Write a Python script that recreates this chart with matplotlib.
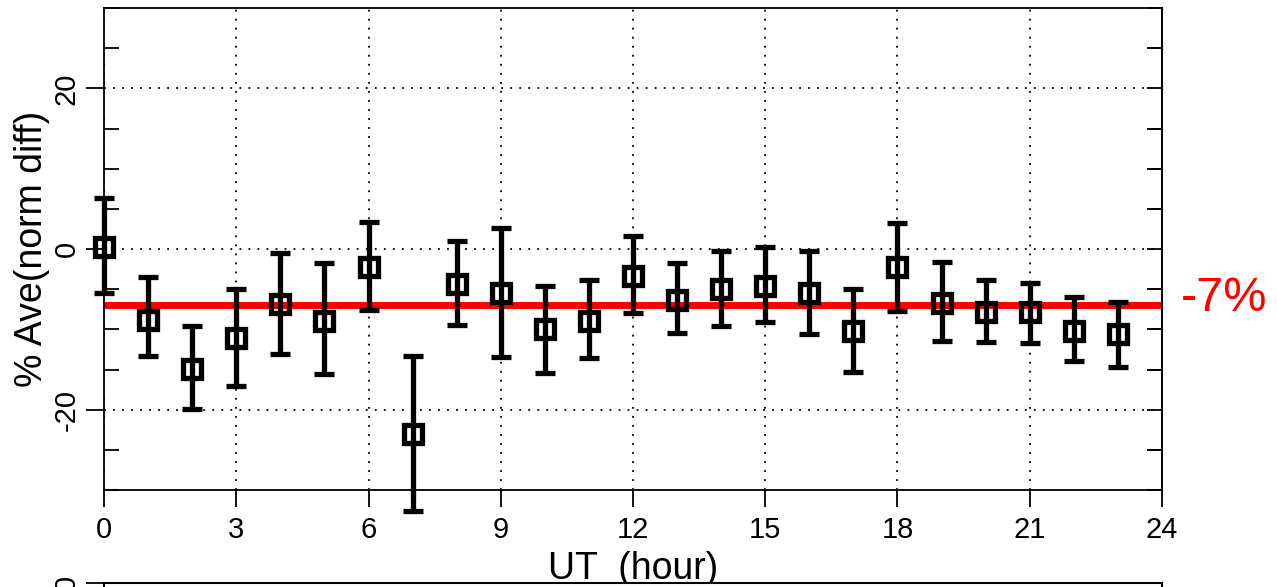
import numpy as np
import matplotlib
matplotlib.use("Agg")
import matplotlib.pyplot as plt
from matplotlib.ticker import MultipleLocator

plt.rcParams['font.family'] = ['Liberation Sans', 'DejaVu Sans']
plt.rcParams['axes.unicode_minus'] = False

# hourly averages (UT hour), with error bar ends
hours = list(range(24))
ave = [0.3, -8.8, -14.9, -11.1, -6.8, -9.0, -2.2, -23.0, -4.4, -5.5, -10.0, -9.0,
       -3.4, -6.4, -5.0, -4.6, -5.5, -10.2, -2.3, -6.7, -7.9, -7.9, -10.2, -10.6]
err_top = [6.3, -3.5, -9.6, -5.0, -0.5, -1.8, 3.4, -13.3, 1.0, 2.6, -4.6, -3.9,
           1.6, -1.8, -0.2, 0.3, -0.2, -5.0, 3.2, -1.6, -3.9, -4.2, -6.0, -6.6]
err_bot = [-5.5, -13.3, -19.9, -17.1, -13.1, -15.6, -7.6, -32.6, -9.5, -13.4, -15.4, -13.6,
           -8.0, -10.5, -9.6, -9.1, -10.6, -15.3, -7.7, -11.5, -11.6, -11.7, -13.9, -14.7]
mean_level = -7.0
mean_label = "-7%"

fig = plt.figure(figsize=(12.77, 5.87), dpi=100)
ax = fig.add_axes([104/1277, 97/587, 1058/1277, 482/587])

ave_a = np.array(ave)
yerr = [ave_a - np.array(err_bot), np.array(err_top) - ave_a]

ax.axhline(mean_level, color='#ff0000', lw=5, zorder=2)
ax.errorbar(hours, ave, yerr=yerr, fmt='s', color='black', ecolor='black',
            elinewidth=3.8, capsize=7.5, capthick=3.8, markersize=13.5,
            markerfacecolor='none', markeredgewidth=3.8, zorder=3, clip_on=False)

ax.set_xlim(0, 24)
ax.set_ylim(-30, 30)
ax.xaxis.set_major_locator(MultipleLocator(3))
ax.set_yticks([-20, 0, 20])
ax.yaxis.set_minor_locator(MultipleLocator(5))

ax.grid(True, which='major', linestyle=(0, (1, 4)), color='black', lw=1.3)

for s in ax.spines.values():
    s.set_linewidth(1.3)

ax.tick_params(axis='x', which='major', direction='out', length=12, width=1.3,
               labelsize=21, pad=7, top=False)
ax.tick_params(axis='y', which='major', direction='out', length=13, width=1.3,
               labelsize=21, pad=4, labelrotation=90)
ax.tick_params(axis='y', which='minor', direction='in', length=11, width=1.3,
               left=True, right=True)
for lbl in ax.get_yticklabels():
    lbl.set_verticalalignment('center')

# right side ticks every 5, pointing in
axr = ax.secondary_yaxis('right')
axr.set_yticks(np.arange(-25, 30, 5))
axr.tick_params(direction='in', length=11, width=1.3, labelright=False)
axr.spines['right'].set_linewidth(1.3)

ax.set_xlabel("UT  (hour)", fontsize=27, labelpad=5)
ax.set_ylabel("% Ave(norm diff)", fontsize=27, labelpad=2)

ax.text(1.018, mean_level + 0.9, mean_label, transform=ax.get_yaxis_transform(),
        color='#ff0000', fontsize=35, ha='left', va='center')

# top of the next panel, cut off by the page edge
ax2 = fig.add_axes([104/1277, -0.2, 1058/1277, 0.2 + 4/587])
ax2.set_ylim(-10, 0)
ax2.set_xlim(0, 24)
ax2.set_xticks([])
ax2.set_yticks([0])
ax2.tick_params(axis='y', direction='out', length=13, width=1.3, labelsize=21,
                pad=4, labelrotation=90)
for lbl in ax2.get_yticklabels():
    lbl.set_verticalalignment('center')
for s in ax2.spines.values():
    s.set_linewidth(1.5)

fig.savefig("out.png", dpi=100)
